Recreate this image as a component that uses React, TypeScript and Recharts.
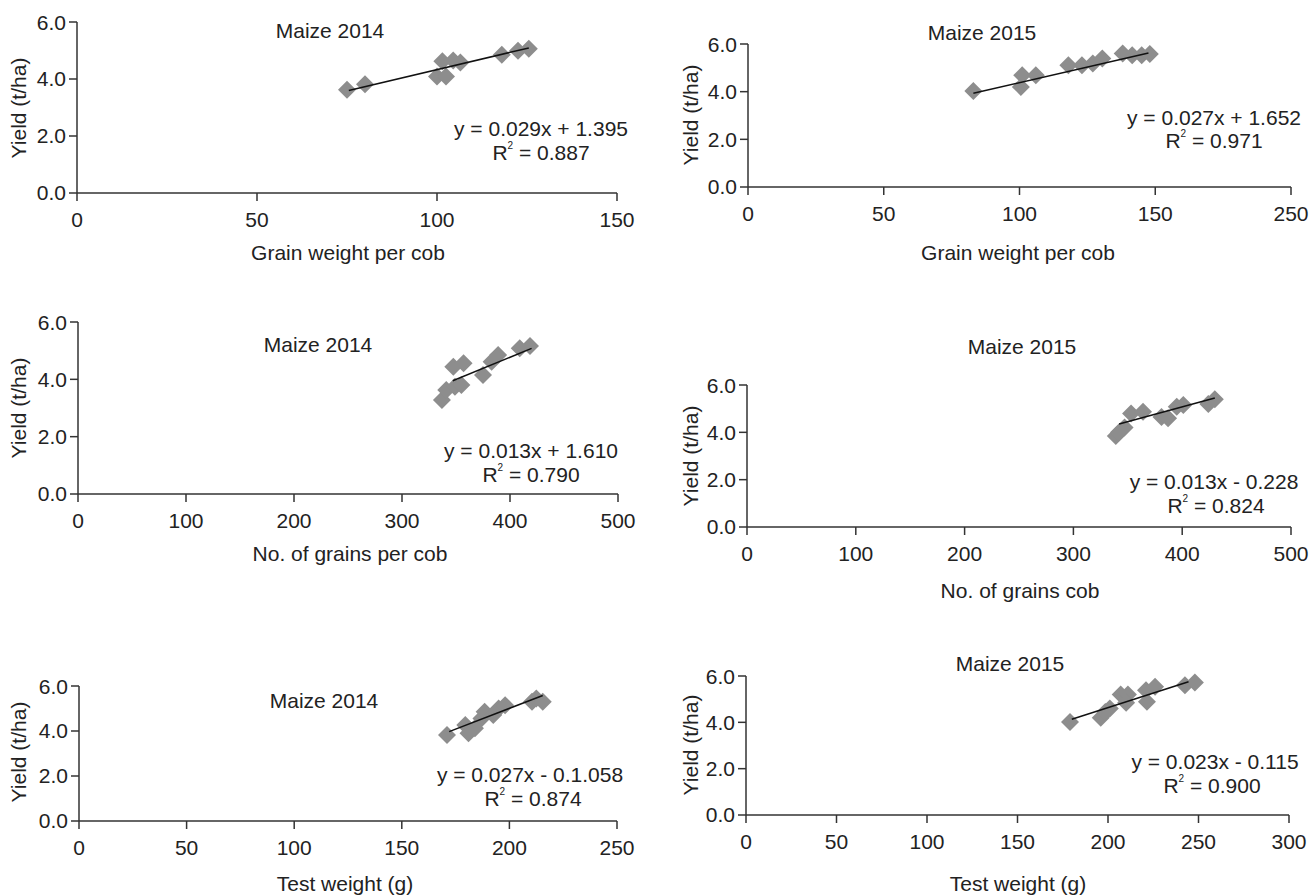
import React from "react";
import { ScatterChart, Scatter, XAxis, YAxis } from "recharts";

// Maize 2014 - grain weight per cob
const gw14X = [75, 80, 100, 102.5, 101.5, 104.5, 106.5, 118, 122.5, 125.5];
const gw14Y = [3.62, 3.82, 4.09, 4.09, 4.62, 4.65, 4.58, 4.85, 4.99, 5.06];
const gw14Trend = [[75.5, 3.6], [125.5, 5.09]];

// Maize 2015 - grain weight per cob
const gw15X = [83, 100.5, 101, 106, 118, 123, 127, 130.5, 138, 141.5, 145, 148];
const gw15Y = [4.03, 4.2, 4.69, 4.69, 5.11, 5.11, 5.18, 5.39, 5.6, 5.53, 5.53, 5.58];
const gw15Trend = [[83, 3.93], [147.5, 5.62]];

// Maize 2014 - no. of grains per cob
const ng14X = [337, 341, 349, 355, 347.5, 357, 375, 383, 389, 409, 418.5];
const ng14Y = [3.28, 3.63, 3.74, 3.8, 4.44, 4.56, 4.15, 4.61, 4.85, 5.08, 5.16];
const ng14Trend = [[347, 3.95], [420, 5.08]];

// Maize 2015 - no. of grains per cob
const ng15X = [339, 342, 347, 353, 364, 381, 387, 395, 401, 424, 430];
const ng15Y = [3.85, 4.0, 4.2, 4.8, 4.87, 4.65, 4.59, 5.08, 5.15, 5.2, 5.4];
const ng15Trend = [[342, 4.35], [430, 5.45]];

// Maize 2014 - test weight
const tw14X = [171, 179.5, 181, 184, 187, 188.5, 192.5, 195, 198, 210.5, 212.5, 215.5];
const tw14Y = [3.82, 4.27, 3.9, 4.12, 4.56, 4.86, 4.71, 5.0, 5.15, 5.3, 5.45, 5.3];
const tw14Trend = [[172, 3.97], [215.5, 5.58]];

// Maize 2015 - test weight
const tw15X = [179, 196, 198.5, 201, 207, 211, 210, 221, 221.5, 226, 242.5, 248];
const tw15Y = [4.01, 4.2, 4.45, 4.6, 5.2, 5.2, 4.85, 5.39, 4.89, 5.54, 5.6, 5.72];
const tw15Trend = [[180, 4.13], [244.5, 5.75]];

// ticks
const xTicksGw14 = [0, 50, 100, 150];
const xTicksGw15 = [0, 50, 100, 150, 200];
const xLabelsGw15 = ["0", "50", "100", "150", "250"];
const xTicksNg = [0, 100, 200, 300, 400, 500];
const xTicksTw14 = [0, 50, 100, 150, 200, 250];
const xTicksTw15 = [0, 50, 100, 150, 200, 250, 300];
const yTicksEven = [0, 2, 4, 6];
const yTicksAll = [0, 1, 2, 3, 4, 5, 6];

const FONT = "'Liberation Sans', Arial, Helvetica, sans-serif";
const INK = "#222";

const toPoints = (xs: number[], ys: number[]) => xs.map((x, i) => ({ x, y: ys[i] }));
const toLine = (t: number[][]) => t.map(([x, y]) => ({ x, y }));

const Diamond = (props: any) => {
  const { cx, cy } = props;
  const r = 9;
  if (cx == null || cy == null) return <g />;
  return (
    <polygon
      points={`${cx},${cy - r} ${cx + r},${cy} ${cx},${cy + r} ${cx - r},${cy}`}
      fill="#8d8d8d"
    />
  );
};

const NoDot = () => <g />;

type Frame = { left: number; top: number; width: number; height: number };

function Panel(props: {
  frame: Frame;
  xs: number[];
  ys: number[];
  trend: number[][];
  xMax: number;
  xTicks: number[];
  xLabels?: string[];
  yTicks: number[];
}) {
  const { frame, xs, ys, trend, xMax, xTicks, xLabels, yTicks } = props;
  const mL = 80;
  const mT = 12;
  const mR = 20;
  const mB = 50;
  const tickStyle = { fontSize: 21, fill: INK, fontFamily: FONT };
  return (
    <div
      style={{
        position: "absolute",
        left: frame.left - mL,
        top: frame.top - mT,
      }}
    >
      <ScatterChart
        width={frame.width + mL + mR}
        height={frame.height + mT + mB}
        margin={{ top: mT, right: mR, bottom: 0, left: 0 }}
        style={{ fontFamily: FONT }}
      >
        <XAxis
          type="number"
          dataKey="x"
          domain={[0, xMax]}
          ticks={xTicks}
          height={mB}
          allowDataOverflow
          tick={tickStyle}
          tickSize={8}
          tickMargin={11}
          tickFormatter={(v: number) => {
            const i = xTicks.indexOf(v);
            return xLabels && i >= 0 ? xLabels[i] : String(v);
          }}
          axisLine={{ stroke: "#333", strokeWidth: 1.5 }}
          tickLine={{ stroke: "#333", strokeWidth: 1.5 }}
        />
        <YAxis
          type="number"
          dataKey="y"
          domain={[0, 6]}
          ticks={yTicks}
          width={mL}
          tick={tickStyle}
          tickSize={8}
          tickMargin={3}
          tickFormatter={(v: number) => v.toFixed(1)}
          axisLine={{ stroke: "#333", strokeWidth: 1.5 }}
          tickLine={{ stroke: "#333", strokeWidth: 1.5 }}
        />
        <Scatter data={toPoints(xs, ys)} shape={Diamond} isAnimationActive={false} />
        <Scatter
          data={toLine(trend)}
          line={{ stroke: "#111", strokeWidth: 1.5 }}
          shape={NoDot}
          isAnimationActive={false}
        />
      </ScatterChart>
    </div>
  );
}

const Txt = ({ x, y, children, rotate }: { x: number; y: number; children: React.ReactNode; rotate?: boolean }) => (
  <div
    style={{
      position: "absolute",
      left: x,
      top: y,
      transform: `translate(-50%, -50%)${rotate ? " rotate(-90deg)" : ""}`,
      whiteSpace: "nowrap",
      fontSize: 21,
      fontFamily: FONT,
      color: INK,
      lineHeight: 1,
    }}
  >
    {children}
  </div>
);

const R2 = ({ v }: { v: string }) => (
  <span>
    R<sup style={{ fontSize: 10, verticalAlign: "top", position: "relative", top: -1 }}>2</sup> = {v}
  </span>
);

export default function App() {
  return (
    <div style={{ position: "absolute", left: 0, top: 0, width: 1309, height: 896, background: "#fff" }}>
      <Panel frame={{ left: 77, top: 22, width: 540, height: 171 }} xs={gw14X} ys={gw14Y} trend={gw14Trend} xMax={150} xTicks={xTicksGw14} yTicks={yTicksEven} />
      <Panel frame={{ left: 748, top: 44, width: 543, height: 143 }} xs={gw15X} ys={gw15Y} trend={gw15Trend} xMax={200} xTicks={xTicksGw15} xLabels={xLabelsGw15} yTicks={yTicksEven} />
      <Panel frame={{ left: 78, top: 322, width: 540, height: 172 }} xs={ng14X} ys={ng14Y} trend={ng14Trend} xMax={500} xTicks={xTicksNg} yTicks={yTicksAll} />
      <Panel frame={{ left: 747, top: 385, width: 544, height: 142 }} xs={ng15X} ys={ng15Y} trend={ng15Trend} xMax={500} xTicks={xTicksNg} yTicks={yTicksEven} />
      <Panel frame={{ left: 79, top: 686, width: 538, height: 135 }} xs={tw14X} ys={tw14Y} trend={tw14Trend} xMax={250} xTicks={xTicksTw14} yTicks={yTicksEven} />
      <Panel frame={{ left: 746, top: 676, width: 543, height: 139 }} xs={tw15X} ys={tw15Y} trend={tw15Trend} xMax={300} xTicks={xTicksTw15} yTicks={yTicksEven} />

      {/* panel titles */}
      <Txt x={330} y={30}>Maize 2014</Txt>
      <Txt x={982} y={32}>Maize 2015</Txt>
      <Txt x={318} y={344}>Maize 2014</Txt>
      <Txt x={1022} y={346}>Maize 2015</Txt>
      <Txt x={324} y={700}>Maize 2014</Txt>
      <Txt x={1010} y={663}>Maize 2015</Txt>

      {/* regression text */}
      <Txt x={541} y={128}>y = 0.029x + 1.395</Txt>
      <Txt x={541} y={152}><R2 v="0.887" /></Txt>
      <Txt x={1214} y={117}>y = 0.027x + 1.652</Txt>
      <Txt x={1214} y={140}><R2 v="0.971" /></Txt>
      <Txt x={531} y={450}>y = 0.013x + 1.610</Txt>
      <Txt x={531} y={474}><R2 v="0.790" /></Txt>
      <Txt x={1214} y={481}>y = 0.013x - 0.228</Txt>
      <Txt x={1216} y={505}><R2 v="0.824" /></Txt>
      <Txt x={530} y={774}>y = 0.027x - 0.1.058</Txt>
      <Txt x={533} y={798}><R2 v="0.874" /></Txt>
      <Txt x={1215} y={761}>y = 0.023x - 0.115</Txt>
      <Txt x={1212} y={785}><R2 v="0.900" /></Txt>

      {/* axis titles */}
      <Txt x={348} y={252}>Grain weight per cob</Txt>
      <Txt x={1018} y={252}>Grain weight per cob</Txt>
      <Txt x={350} y={553}>No. of grains per cob</Txt>
      <Txt x={1020} y={590}>No. of grains cob</Txt>
      <Txt x={345} y={883}>Test weight (g)</Txt>
      <Txt x={1018} y={883}>Test weight (g)</Txt>

      <Txt x={18} y={108} rotate>Yield (t/ha)</Txt>
      <Txt x={690} y={115} rotate>Yield (t/ha)</Txt>
      <Txt x={18} y={408} rotate>Yield (t/ha)</Txt>
      <Txt x={690} y={456} rotate>Yield (t/ha)</Txt>
      <Txt x={18} y={752} rotate>Yield (t/ha)</Txt>
      <Txt x={690} y={745} rotate>Yield (t/ha)</Txt>
    </div>
  );
}
